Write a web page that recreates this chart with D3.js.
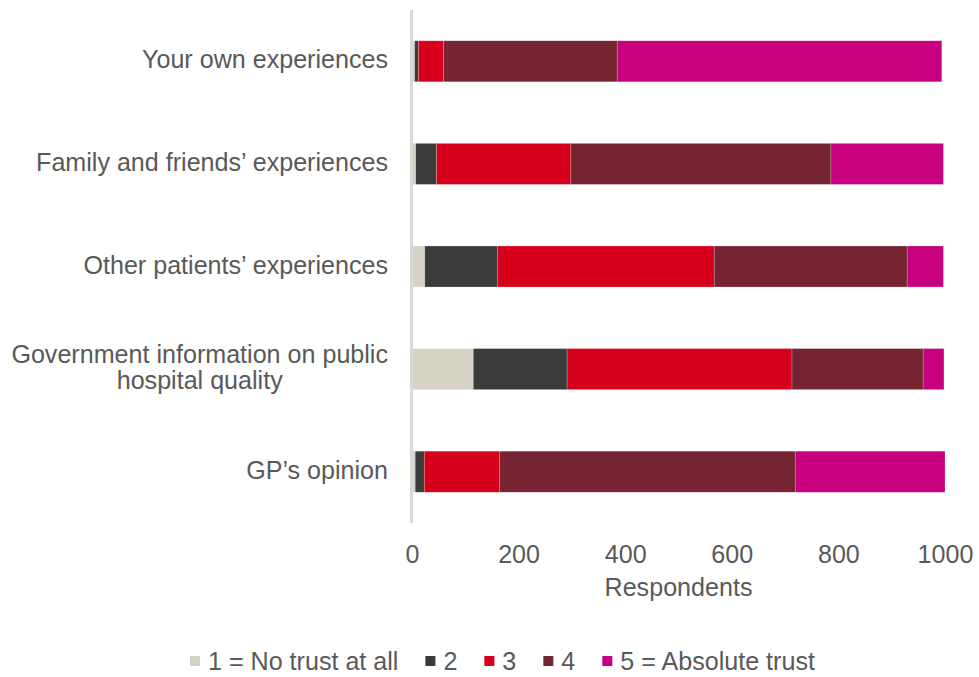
<!DOCTYPE html>
<html>
<head>
<meta charset="utf-8">
<script src="https://cdn.jsdelivr.net/npm/d3@7"></script>
<style>
  body { margin: 0; background: #fff; }
  text { font-family: "Liberation Sans", Arial, sans-serif; fill: #595959; }
</style>
</head>
<body>
<div class="graph-section"></div>
<script>
// categories, top to bottom
var categories = [
  "Your own experiences",
  "Family and friends’ experiences",
  "Other patients’ experiences",
  "Government information on public hospital quality",
  "GP’s opinion"
];

// respondents per trust level
var noTrust  = [5, 7, 24, 115, 6];
var level2   = [7, 39, 136, 176, 17];
var level3   = [47, 252, 407, 422, 141];
var level4   = [326, 488, 362, 246, 555];
var absolute = [609, 211, 68, 39, 281];

var seriesNames = ["1 = No trust at all", "2", "3", "4", "5 = Absolute trust"];
var seriesColors = ["#d6d2c4", "#3a3c39", "#d6001c", "#772432", "#c6007e"];
var xTicks = [0, 200, 400, 600, 800, 1000];

var screen = {width: 979, height: 677};
var margins = {top: 10, bottom: 154, left: 412, right: 34};
var fontSize = 25.1;

var graphWidth = screen.width - margins.left - margins.right;
var graphHeight = screen.height - margins.top - margins.bottom;

var rows = categories.map(function(c, i){
  return {cat: c, s0: noTrust[i], s1: level2[i], s2: level3[i], s3: level4[i], s4: absolute[i]};
});
var keys = ["s0", "s1", "s2", "s3", "s4"];
var stacked = d3.stack().keys(keys)(rows);

var xScale = d3.scaleLinear()
              .domain([0, 1000])
              .range([0, graphWidth]);

var yScale = d3.scaleBand()
              .domain(categories)
              .range([0, graphHeight])
              .paddingInner(0.6)
              .paddingOuter(0.3);

var svg = d3.select(".graph-section")
            .append("svg")
            .attr("width", screen.width)
            .attr("height", screen.height);

var plotLand = svg.append("g")
                  .attr("transform", "translate(" + margins.left + "," + margins.top + ")");

var layers = plotLand.selectAll("g.layer")
                     .data(stacked)
                     .enter()
                     .append("g")
                     .classed("layer", true)
                     .attr("fill", function(d, i){ return seriesColors[i]; });

layers.selectAll("rect")
      .data(function(d){ return d; })
      .enter()
      .append("rect")
      .attr("x", function(d){ return xScale(d[0]); })
      .attr("y", function(d){ return yScale(d.data.cat); })
      .attr("width", function(d){ return xScale(d[1]) - xScale(d[0]); })
      .attr("height", yScale.bandwidth())
      .attr("stroke", "#fff")
      .attr("stroke-opacity", 0.35)
      .attr("stroke-width", 0.6);

// vertical axis line
plotLand.append("line")
        .attr("x1", -0.5).attr("x2", -0.5)
        .attr("y1", 0).attr("y2", graphHeight)
        .attr("stroke", "#d9d9d9")
        .attr("stroke-width", 3);

// x axis labels
var xAxis = d3.axisBottom(xScale)
              .tickValues(xTicks)
              .tickFormat(d3.format("d"))
              .tickSize(0)
              .tickPadding(0);

var xg = svg.append("g")
            .attr("transform", "translate(" + margins.left + "," + 545 + ")")
            .call(xAxis);
xg.select(".domain").remove();
xg.selectAll("text")
  .attr("y", 0)
  .attr("dy", "0.71em")
  .style("font-size", fontSize + "px")
  .style("font-family", '"Liberation Sans", Arial, sans-serif')
  .attr("fill", "#595959");

svg.append("text")
   .attr("x", margins.left + graphWidth / 2)
   .attr("y", 596)
   .attr("text-anchor", "middle")
   .style("font-size", fontSize + "px")
   .text("Respondents");

// category labels, wrapped and centred as a block, right edge at 388
var labelRight = 388;
var lineHeight = 25.7;
var measure = svg.append("text").style("font-size", fontSize + "px");
function textWidth(s){ measure.text(s); return measure.node().getComputedTextLength(); }

categories.forEach(function(c){
  var words = c.split(" ");
  var lines = [];
  var cur = "";
  words.forEach(function(w){
    var test = cur == "" ? w : cur + " " + w;
    if (textWidth(test) > 385 && cur != "") { lines.push(cur); cur = w; }
    else { cur = test; }
  });
  lines.push(cur);
  var widest = d3.max(lines, textWidth);
  var cy = margins.top + yScale(c) + yScale.bandwidth() / 2;
  var firstBase = cy + 7 - (lines.length - 1) * lineHeight / 2;
  lines.forEach(function(l, j){
    svg.append("text")
       .attr("x", labelRight - widest / 2)
       .attr("y", firstBase + j * lineHeight)
       .attr("text-anchor", "middle")
       .style("font-size", fontSize + "px")
       .text(l);
  });
});
measure.remove();

// legend
var legend = svg.append("g").classed("legend", true);
var lx = 190;
seriesNames.forEach(function(n, i){
  legend.append("rect")
        .attr("x", lx)
        .attr("y", 656)
        .attr("width", 10)
        .attr("height", 10)
        .attr("fill", seriesColors[i]);
  var t = legend.append("text")
                .attr("x", lx + 18)
                .attr("y", 670)
                .style("font-size", fontSize + "px")
                .text(n);
  lx = lx + 18 + t.node().getComputedTextLength() + 27;
});
</script>
</body>
</html>
